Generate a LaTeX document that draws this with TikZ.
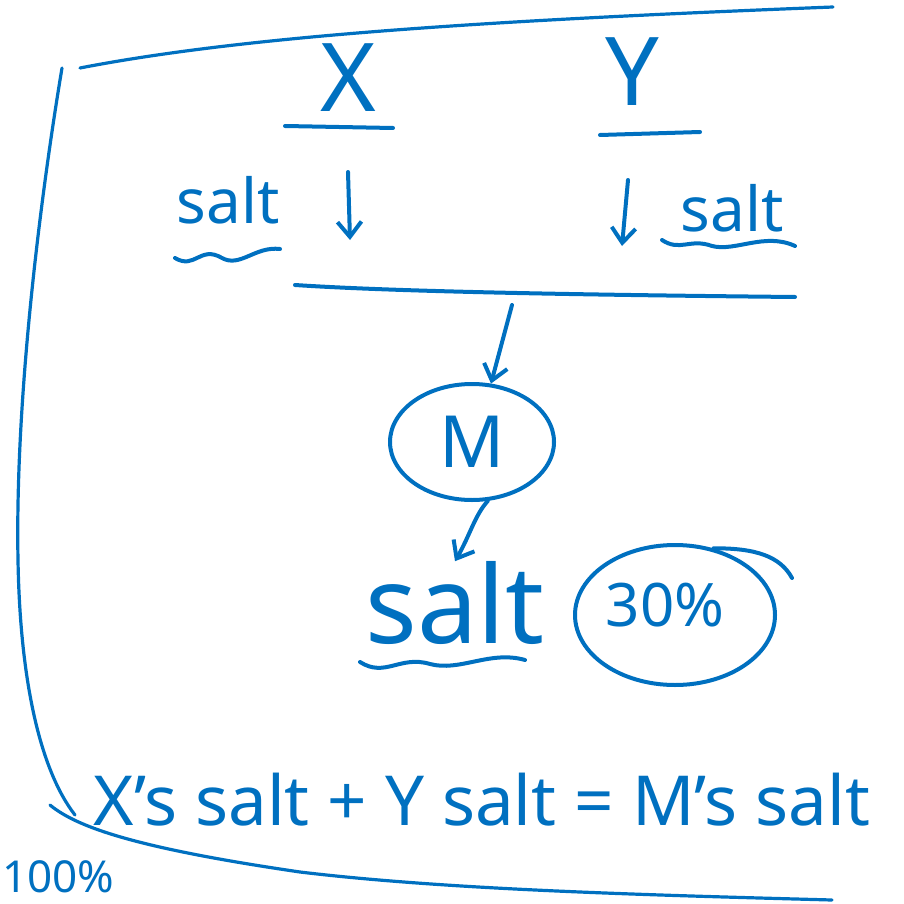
\documentclass[tikz,border=0pt]{standalone}
\usepackage{fontspec}
\setmainfont{Noto Sans}
\usetikzlibrary{shapes.geometric,arrows.meta}
\definecolor{ink}{HTML}{0070C0}
\begin{document}
\begin{tikzpicture}[x=1pt,y=-1pt,
  pen/.style={draw=ink,line width=4pt,line cap=round,line join=round},
  frame/.style={draw=ink,line width=3.2pt,line cap=round,line join=round},
  txt/.style={text=ink,inner sep=0pt},
  arr/.style={pen,-{Straight Barb[length=15pt,width=24pt,line width=4pt]}},
  oval/.style={ellipse,draw=ink,line width=4pt,text=ink,inner sep=0pt}
]
\useasboundingbox (0,0) rectangle (904,904);
% frame
\draw[frame] (80,68) .. controls (250,35) and (500,20) .. (833,7);
\draw[frame] (62,68) .. controls (40,200) and (15,400) .. (18,560) .. controls (20,680) and (40,770) .. (75,815);
\draw[frame] (50,805) .. controls (80,830) and (150,850) .. (300,872) .. controls (450,890) and (650,895) .. (832,900);
% headers
\node[txt,font=\fontsize{95}{100}\selectfont] (X) at (348,78) {X};
\node[txt,font=\fontsize{95}{100}\selectfont] (Y) at (632,72) {Y};
\draw[pen] (285,126) -- (393,128);
\draw[pen] (600,135) -- (700,132);
% salts top
\node[txt,font=\fontsize{62}{66}\selectfont] (saltX) at (228,200) {salt};
\node[txt,font=\fontsize{62}{66}\selectfont] (saltY) at (732,208) {salt};
\coordinate (ax1) at (348,172);
\coordinate (ax2) at (350,240);
\draw[arr] (ax1) -- (ax2);
\coordinate (ay1) at (628,180);
\coordinate (ay2) at (622,246);
\draw[arr] (ay1) -- (ay2);
\draw[pen] (175,258) .. controls (195,270) and (200,245) .. (222,258) .. controls (240,268) and (255,246) .. (280,249);
\draw[pen] (662,240) .. controls (680,252) and (690,238) .. (712,246) .. controls (735,252) and (765,232) .. (795,246);
% mixing line
\coordinate (L1) at (295,285);
\coordinate (L2) at (795,297);
\draw[pen] (L1) .. controls (400,292) and (600,295) .. (L2);
\coordinate (mdrop) at (512,305);
% M
\node[oval,minimum width=164pt,minimum height=116pt,font=\fontsize{72}{76}\selectfont] (M) at (472,442) {M};
\draw[arr] (mdrop) -- (M.72);
% result
\node[txt,font=\fontsize{108}{112}\selectfont] (saltM) at (455,603) {salt};
\draw[arr] (M.-75) .. controls (475,515) and (470,535) .. (saltM.north);
\draw[pen] (360,662) .. controls (385,678) and (400,655) .. (430,664) .. controls (460,672) and (490,650) .. (525,660);
\node[oval,minimum width=200pt,minimum height=140pt] (pct) at (675,615) {};
\node[txt,font=\fontsize{60}{64}\selectfont] (pcttxt) at (665,605) {30\%};
\draw[pen] (pct.60) .. controls (755,548) and (780,556) .. (792,578);
% equation
\node[txt,font=\fontsize{69}{72}\selectfont] (eq) at (482,800) {X's salt + Y salt = M's salt};
% bottom-left
\node[txt,anchor=west,font=\fontsize{44}{48}\selectfont] (hund) at (2,877) {100\%};
\end{tikzpicture}
\end{document}
